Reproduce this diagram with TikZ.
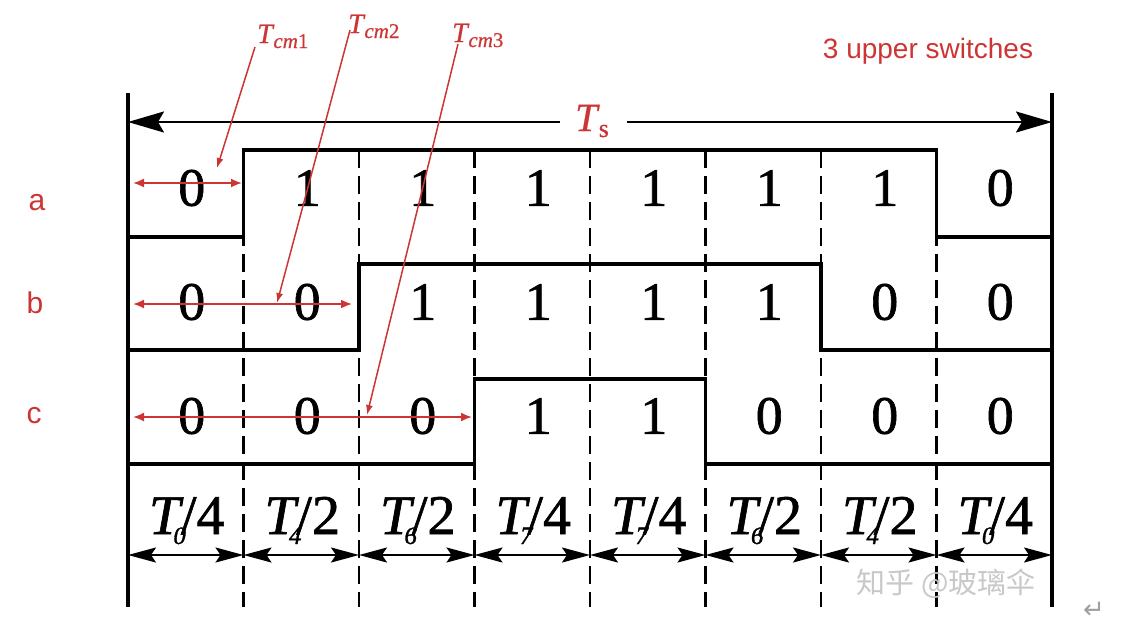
\documentclass[tikz,border=0pt]{standalone}
\usepackage{fontspec}
\setmainfont{Liberation Serif}
\newfontfamily\heavy[FakeBold=1.2]{Liberation Serif}
\newfontfamily\medium[FakeBold=0.6]{Liberation Serif}
\newfontfamily\sansf{Liberation Sans}
\newfontfamily\cjkf{Noto Sans CJK SC}
\newfontfamily\djv{DejaVu Sans}
\usetikzlibrary{arrows.meta}
\definecolor{myred}{RGB}{205,52,52}
\definecolor{wm}{RGB}{200,200,200}
\begin{document}
\begin{tikzpicture}[x=1pt,y=-1pt,
  wave/.style={line width=3.2pt, line join=miter},
  gridline/.style={line width=2.2pt, dash pattern=on 18pt off 8pt},
  bound/.style={line width=3.2pt},
  digit/.style={font=\heavy\fontsize{54}{60}\selectfont, inner sep=0pt, anchor=center},
  dur/.style={font=\heavy\fontsize{56}{60}\selectfont, inner sep=0pt, anchor=base},
  dim/.style={line width=2pt, {Stealth[length=28pt,width=15pt,inset=5pt]}-{Stealth[length=28pt,width=15pt,inset=5pt]}},
  tsarr/.style={line width=2.4pt, -{Stealth[length=36pt,width=21pt,inset=6pt]}},
  redarr/.style={myred, line width=1.8pt, {Latex[length=11pt,width=9pt]}-{Latex[length=11pt,width=9pt]}},
  ptr/.style={myred, line width=1.5pt, -{Latex[length=10pt,width=7pt]}},
  rlab/.style={text=myred, font=\sansf\fontsize{30}{32}\selectfont, inner sep=0pt},
  tcm/.style={text=myred, font=\medium\fontsize{28}{30}\selectfont, inner sep=0pt, anchor=base west},
]
\useasboundingbox (0,0) rectangle (1124,630);

% column boundaries
\foreach \i in {0,...,8}{
  \coordinate (x\i) at ({128+115.5*\i},0);
}

% dashed grid lines
\foreach \i in {1,...,7}{
  \draw[gridline] (x\i |- 0,150) -- (x\i |- 0,607);
}

% outer boundaries
\draw[bound] (x0 |- 0,93) -- (x0 |- 0,607);
\draw[bound] (x8 |- 0,93) -- (x8 |- 0,607);

% waveforms
\draw[wave] (x0 |- 0,237) -- (x1 |- 0,237) -- (x1 |- 0,150) -- (x7 |- 0,150) -- (x7 |- 0,237) -- (x8 |- 0,237);
\draw[wave] (x0 |- 0,350) -- (x2 |- 0,350) -- (x2 |- 0,264) -- (x6 |- 0,264) -- (x6 |- 0,350) -- (x8 |- 0,350);
\draw[wave] (x0 |- 0,464) -- (x3 |- 0,464) -- (x3 |- 0,379) -- (x5 |- 0,379) -- (x5 |- 0,464) -- (x8 |- 0,464);

% Ts arrow
\node[text=myred, font=\medium\fontsize{40}{42}\selectfont, inner sep=0pt, anchor=base] (ts) at (592,131) {\textit{T}\kern-1pt\raisebox{-6pt}{\fontsize{26}{26}\selectfont s}};
\coordinate (tsl) at (x0 |- 0,122);
\coordinate (tsr) at (x8 |- 0,122);
\coordinate (tsgl) at (560,122);
\coordinate (tsgr) at (627,122);
\draw[tsarr] (tsgl) -- (tsl);
\draw[tsarr] (tsgr) -- (tsr);

% digits
\foreach \v [count=\c from 0] in {0,1,1,1,1,1,1,0}{
  \node[digit] (da\c) at ({128+115.5*\c+57.75+6},188) {\v};
}
\foreach \v [count=\c from 0] in {0,0,1,1,1,1,0,0}{
  \node[digit] (db\c) at ({128+115.5*\c+57.75+6},302) {\v};
}
\foreach \v [count=\c from 0] in {0,0,0,1,1,0,0,0}{
  \node[digit] (dc\c) at ({128+115.5*\c+57.75+6},416) {\v};
}

% duration labels
\foreach \s/\d [count=\c from 0] in {0/4,4/2,6/2,7/4,7/4,6/2,4/2,0/4}{
  \node[dur] (t\c) at ({128+115.5*\c+57.75+1},534) {\textit{T}\kern-10pt\raisebox{-10pt}{\fontsize{25}{25}\selectfont\itshape \s}\kern-5pt/\d};
}
\foreach \i [evaluate=\i as \j using int(\i+1)] in {0,...,7}{
  \draw[dim] (x\i |- 0,555) -- (x\j |- 0,555);
}

% row labels
\node[rlab] (la) at (37,203) {a};
\node[rlab] (lb) at (35,303) {b};
\node[rlab] (lc) at (34,416) {c};
\node[text=myred, font=\sansf\fontsize{28}{30}\selectfont, inner sep=0pt] (title) at (928,51) {3 upper switches};

% Tcm labels and arrows
\node[tcm] (tcm1) at (257,43) {\textit{T}\kern-1pt\raisebox{-5pt}{\fontsize{21}{21}\selectfont\textit{cm}1}};
\node[tcm] (tcm2) at (348,33) {\textit{T}\kern-1pt\raisebox{-5pt}{\fontsize{21}{21}\selectfont\textit{cm}2}};
\node[tcm] (tcm3) at (452,42) {\textit{T}\kern-1pt\raisebox{-5pt}{\fontsize{21}{21}\selectfont\textit{cm}3}};

\coordinate (r1l) at (133,183); \coordinate (r1r) at (242,183);
\coordinate (r2l) at (133,304); \coordinate (r2r) at (352,304);
\coordinate (r3l) at (133,417); \coordinate (r3r) at (472,417);
\draw[redarr] (r1l) -- (r1r);
\draw[redarr] (r2l) -- (r2r);
\draw[redarr] (r3l) -- (r3r);

\coordinate (p1) at (217,168);
\coordinate (p2) at (277,303);
\coordinate (p3) at (367,415);
\coordinate (s1) at (255,47);
\coordinate (s2) at (350,30);
\coordinate (s3) at (458,44);
\draw[ptr] (s1) -- (p1);
\draw[ptr] (s2) -- (p2);
\draw[ptr] (s3) -- (p3);

% watermark
\node[text=wm, font=\cjkf\fontsize{29}{30}\selectfont, inner sep=0pt] (wmk) at (946,584) {知乎 @玻璃伞};
\node[text=wm!80!black, font=\djv\fontsize{26}{28}\selectfont, inner sep=0pt] (ret) at (1094,610) {↵};
\end{tikzpicture}
\end{document}
